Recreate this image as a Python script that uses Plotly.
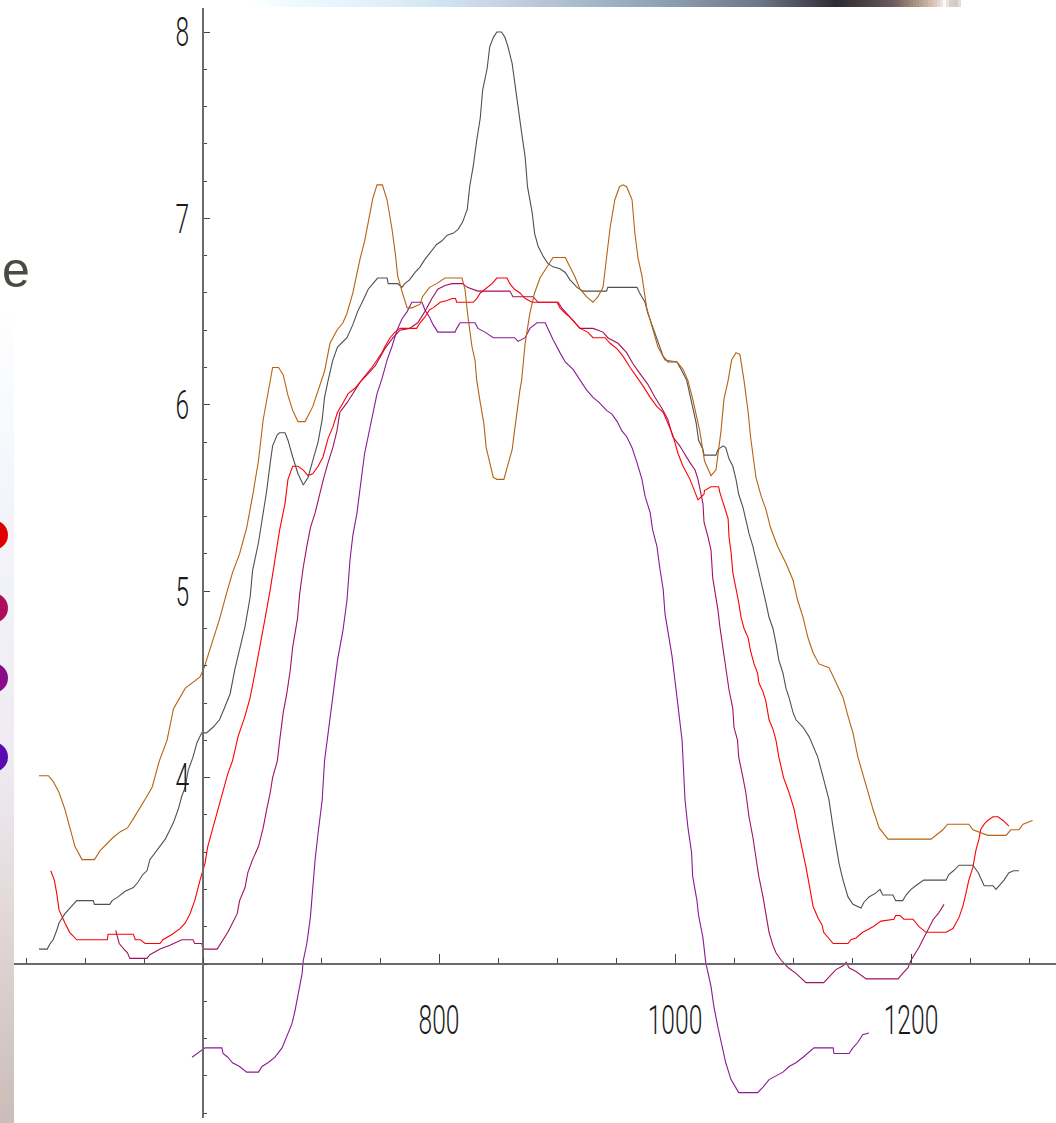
import plotly.graph_objects as go

# ---- measured series: (wavelength, value) ----
orange = [(461, 4.01), (469, 4.01), (473, 3.98), (478, 3.92), (483, 3.83), (487, 3.73), (491.5, 3.63),
          (497.5, 3.56), (508, 3.56), (513, 3.61), (519, 3.65), (524, 3.68), (530, 3.71), (536, 3.73),
          (541, 3.78), (547, 3.84), (552.5, 3.90), (557, 3.95), (559.5, 4.01), (563, 4.09), (569.5, 4.20),
          (575, 4.37), (585, 4.48), (591.5, 4.51), (597.5, 4.54), (601, 4.59), (604, 4.65), (608.5, 4.74),
          (614, 4.85), (620, 4.99), (625, 5.10), (631, 5.20), (637, 5.34), (642, 5.51), (647, 5.70),
          (651, 5.92), (655, 6.06), (659, 6.20), (664, 6.20), (668, 6.16), (672, 6.05), (676, 5.97),
          (680.5, 5.91), (686.5, 5.91), (693, 5.99), (699, 6.11), (703, 6.18), (707.6, 6.33), (713.5, 6.40),
          (718.6, 6.44), (722, 6.49), (727, 6.60), (733, 6.78), (737, 6.88), (741.5, 7.03), (744, 7.11),
          (747.5, 7.18), (752, 7.18), (756, 7.10), (760, 6.95), (763, 6.81), (765, 6.69), (769, 6.60),
          (773, 6.52), (777, 6.52), (784, 6.54), (786, 6.58), (792, 6.63), (798, 6.65), (805, 6.68),
          (819.5, 6.68), (822, 6.62), (824.6, 6.47), (828, 6.31), (830.5, 6.24), (832, 6.13), (835, 6.01),
          (838, 5.90), (840, 5.77), (843, 5.69), (846, 5.61), (849, 5.60), (855, 5.60), (857.6, 5.66),
          (862, 5.76), (864, 5.86), (866, 5.97), (868.6, 6.08), (870, 6.13), (873, 6.33), (877, 6.49),
          (881, 6.60), (885.6, 6.68), (891.5, 6.74), (896.6, 6.79), (907, 6.79), (911, 6.74), (915, 6.69),
          (919.5, 6.62), (925, 6.58), (930.5, 6.55), (934.7, 6.58), (939, 6.63), (942, 6.78), (945, 6.95),
          (949, 7.10), (953, 7.17), (956, 7.18), (959, 7.17), (963.6, 7.10), (966, 6.92), (968.6, 6.79),
          (972, 6.69), (976, 6.52), (980.5, 6.42), (985.6, 6.31), (991.5, 6.24), (1001.7, 6.23),
          (1006.8, 6.19), (1011, 6.13), (1015, 6.03), (1021, 5.86), (1025, 5.70), (1030.5, 5.62),
          (1034.7, 5.65), (1039, 5.86), (1041.5, 6.03), (1045, 6.13), (1048, 6.24), (1051.7, 6.28),
          (1055, 6.27), (1058.5, 6.13), (1062, 5.96), (1064, 5.83), (1068.6, 5.61), (1073, 5.51),
          (1077, 5.44), (1081, 5.34), (1087, 5.24), (1094, 5.15), (1100, 5.06), (1104, 4.95),
          (1108.5, 4.86), (1112.7, 4.75), (1117, 4.67), (1122, 4.61), (1130.5, 4.59), (1136.4, 4.51),
          (1142.4, 4.43), (1146.6, 4.33), (1150.8, 4.24), (1155, 4.11), (1163.6, 3.92), (1167.8, 3.83),
          (1173, 3.73), (1180.5, 3.67), (1217, 3.67), (1221, 3.69), (1227, 3.72), (1231, 3.75),
          (1249, 3.75), (1252.5, 3.72), (1265, 3.69), (1280.5, 3.69), (1284.7, 3.72), (1291.5, 3.72),
          (1295, 3.75), (1303, 3.77)]

gray = [(461, 3.08), (468, 3.08), (470.5, 3.11), (473, 3.13), (476, 3.18), (478, 3.22), (483, 3.27),
        (487, 3.30), (493, 3.34), (507, 3.34), (508, 3.32), (521, 3.32), (523, 3.34), (528, 3.36),
        (534, 3.39), (541, 3.41), (545, 3.44), (549, 3.48), (552.5, 3.50), (555, 3.56), (559.5, 3.60),
        (563.6, 3.63), (568, 3.67), (572, 3.72), (575, 3.76), (579, 3.83), (582, 3.90), (585, 3.95),
        (587.5, 4.04), (591.5, 4.11), (595, 4.19), (599, 4.24), (603, 4.24), (608.5, 4.27), (614, 4.31),
        (618.6, 4.38), (623, 4.45), (627, 4.58), (631, 4.68), (635.6, 4.81), (640, 4.97), (642, 5.11),
        (647, 5.26), (651, 5.42), (654, 5.54), (657, 5.69), (659, 5.78), (663, 5.84), (665, 5.85),
        (669.5, 5.85), (672, 5.81), (676, 5.72), (680.5, 5.63), (685, 5.57), (689, 5.61), (693, 5.70),
        (697.5, 5.80), (701, 5.92), (703, 6.04), (706, 6.13), (710, 6.24), (714, 6.31), (722, 6.36),
        (727, 6.43), (731, 6.50), (735.6, 6.56), (740, 6.62), (744, 6.65), (748, 6.68), (756, 6.68),
        (757, 6.65), (765, 6.65), (768.6, 6.63), (771, 6.65), (775, 6.67), (779.7, 6.71), (784, 6.74),
        (788, 6.78), (792, 6.81), (798, 6.86), (802.5, 6.88), (807, 6.91), (812, 6.92), (816, 6.94),
        (820, 6.98), (824, 7.05), (826, 7.17), (829, 7.28), (832, 7.42), (835, 7.54), (837, 7.69),
        (840.7, 7.80), (843, 7.92), (846, 7.97), (849, 8.00), (853, 8.00), (856, 7.97), (858.5, 7.92),
        (862, 7.83), (864, 7.73), (867, 7.58), (870, 7.46), (873, 7.33), (875, 7.17), (879, 7.03),
        (881, 6.92), (884, 6.85), (888, 6.80), (892, 6.76), (896.6, 6.74), (902.5, 6.73), (907, 6.71),
        (911, 6.67), (917, 6.63), (922, 6.61), (942, 6.61), (943, 6.63), (967.8, 6.63), (970, 6.60),
        (974.6, 6.55), (977, 6.49), (981, 6.42), (985.6, 6.33), (990, 6.26), (994, 6.23), (1001.7, 6.23),
        (1006.8, 6.17), (1010, 6.13), (1018, 5.90), (1020, 5.81), (1023.7, 5.76), (1024.6, 5.73),
        (1034.7, 5.73), (1036.4, 5.76), (1040.7, 5.78), (1043, 5.77), (1045.8, 5.71), (1049, 5.67),
        (1051.7, 5.60), (1054, 5.52), (1057.6, 5.45), (1060, 5.38), (1062.7, 5.31), (1066, 5.24),
        (1068.6, 5.17), (1071, 5.10), (1074.6, 5.02), (1077, 4.94), (1079.7, 4.86), (1083, 4.80),
        (1085.6, 4.72), (1088, 4.63), (1091.5, 4.56), (1094, 4.48), (1096.6, 4.43), (1100, 4.35),
        (1102.5, 4.31), (1108.5, 4.27), (1113.6, 4.22), (1117.8, 4.16), (1121, 4.11), (1126, 3.99),
        (1130.5, 3.88), (1134, 3.73), (1136.4, 3.63), (1139, 3.54), (1142.4, 3.45), (1146.6, 3.36),
        (1150.8, 3.32), (1157.6, 3.30), (1160, 3.33), (1164.4, 3.36), (1170, 3.38), (1173.7, 3.40),
        (1176, 3.37), (1184.7, 3.37), (1187, 3.34), (1193, 3.34), (1195.8, 3.37), (1200, 3.40),
        (1204, 3.42), (1210.8, 3.45), (1229.7, 3.45), (1232, 3.48), (1236, 3.50), (1240.7, 3.53),
        (1252.5, 3.53), (1257, 3.49), (1262, 3.42), (1269.5, 3.42), (1272, 3.40), (1274.6, 3.42),
        (1278.8, 3.45), (1283, 3.49), (1287, 3.50), (1291.5, 3.50)]

red = [(471, 3.50), (474, 3.45), (476, 3.38), (478, 3.29), (483, 3.22), (487, 3.17), (493, 3.13),
       (519, 3.13), (519.5, 3.16), (541, 3.16), (542.6, 3.13), (547, 3.13), (551, 3.11), (563.6, 3.11),
       (566, 3.13), (574, 3.16), (580.5, 3.19), (585, 3.22), (589, 3.27), (593, 3.34), (597.5, 3.45),
       (601.7, 3.54), (604, 3.63), (608.5, 3.73), (612.7, 3.83), (617, 3.93), (621, 4.02), (625, 4.09),
       (629.7, 4.22), (635.6, 4.33), (640, 4.43), (644, 4.56), (648.3, 4.70), (652.5, 4.85), (657, 5.01),
       (661, 5.17), (665, 5.33), (669.5, 5.47), (672, 5.60), (676, 5.67), (680.5, 5.67), (685, 5.65),
       (689, 5.62), (693, 5.63), (697.5, 5.67), (701.7, 5.72), (706, 5.82), (710, 5.88), (714, 5.96),
       (718.6, 6.01), (723, 6.06), (729, 6.09), (733, 6.12), (739, 6.17), (743, 6.20), (747.5, 6.24),
       (751.7, 6.28), (754, 6.31), (758.5, 6.36), (762.7, 6.39), (767, 6.41), (781, 6.41), (784, 6.44),
       (788, 6.47), (792, 6.51), (795, 6.52), (801, 6.55), (807, 6.56), (811, 6.57), (814, 6.57),
       (815, 6.55), (829, 6.55), (832, 6.57), (835, 6.60), (840.7, 6.63), (845, 6.65), (849, 6.68),
       (857.6, 6.68), (860, 6.65), (864, 6.62), (868.6, 6.60), (873, 6.57), (879, 6.55), (900, 6.55),
       (902.5, 6.52), (907, 6.49), (911, 6.47), (915, 6.44), (919.5, 6.41), (926, 6.39), (930.5, 6.36),
       (940.7, 6.36), (945, 6.33), (951, 6.30), (956, 6.26), (962, 6.20), (967.8, 6.15), (973, 6.10),
       (979, 6.04), (984.7, 5.99), (990, 5.96), (994, 5.90), (998, 5.84), (1002.5, 5.74), (1006.8, 5.67),
       (1012.7, 5.60), (1017, 5.53), (1019.5, 5.49), (1024.6, 5.52), (1025, 5.54), (1030.5, 5.56),
       (1037, 5.56), (1038, 5.53), (1041.5, 5.46), (1045, 5.39), (1045.8, 5.29), (1047.5, 5.21),
       (1049, 5.10), (1051.7, 5.02), (1054, 4.94), (1056, 4.86), (1058.5, 4.80), (1062, 4.75),
       (1064, 4.68), (1067, 4.61), (1070, 4.56), (1071, 4.51), (1074.6, 4.46), (1077, 4.41),
       (1079.7, 4.31), (1083, 4.26), (1085.6, 4.20), (1088, 4.11), (1092, 4.00), (1096.6, 3.92),
       (1101, 3.83), (1104, 3.73), (1107.6, 3.63), (1111, 3.52), (1113.6, 3.43), (1117, 3.31),
       (1121, 3.25), (1124.6, 3.21), (1126, 3.17), (1129.7, 3.14), (1134, 3.11), (1146.6, 3.11),
       (1149, 3.13), (1153.4, 3.14), (1159, 3.17), (1162, 3.18), (1167.8, 3.20), (1174.6, 3.23),
       (1185.6, 3.24), (1187, 3.26), (1190.7, 3.26), (1194, 3.24), (1201.7, 3.24), (1206.8, 3.20),
       (1212.7, 3.17), (1229.7, 3.17), (1235.6, 3.19), (1240.7, 3.25), (1244, 3.31), (1246.6, 3.38),
       (1249, 3.45), (1252.5, 3.52), (1255, 3.61), (1257.6, 3.67), (1259, 3.72), (1262, 3.75),
       (1265, 3.77), (1269.5, 3.79), (1273.7, 3.79), (1278, 3.77), (1282, 3.75), (1283, 3.74)]

crimson = [(526, 3.18), (527, 3.16), (529, 3.11), (533, 3.08), (536, 3.06), (538, 3.03), (541, 3.03),
           (552.5, 3.03), (555, 3.05), (563.6, 3.08), (572, 3.10), (582, 3.13), (591.5, 3.13), (593, 3.11),
           (599, 3.11), (600, 3.08), (612, 3.08), (614, 3.10), (617, 3.13), (621, 3.17), (625, 3.22),
           (629, 3.27), (631, 3.34), (635.6, 3.41), (638, 3.49), (642, 3.56), (647, 3.63), (651, 3.73),
           (654, 3.83), (657, 3.92), (659, 4.00), (663, 4.09), (665, 4.20), (668, 4.35), (671, 4.45),
           (674, 4.58), (676, 4.70), (680, 4.85), (682, 4.99), (685, 5.13), (688, 5.24), (691, 5.34),
           (695, 5.42), (699, 5.53), (702, 5.60), (706, 5.69), (710, 5.77), (713.5, 5.86), (716, 5.96),
           (722, 6.01), (727, 6.06), (733, 6.12), (739, 6.16), (746, 6.21), (754, 6.30), (761, 6.36),
           (767, 6.40), (775, 6.41), (782, 6.44), (788, 6.50), (794, 6.57), (799, 6.62), (805, 6.64),
           (811, 6.65), (820, 6.65), (824, 6.63), (833, 6.61), (860, 6.61), (862.7, 6.58), (879.7, 6.58),
           (884, 6.55), (901, 6.55), (904, 6.52), (911, 6.47), (919.5, 6.41), (930.5, 6.41), (939, 6.39),
           (943, 6.36), (951.7, 6.33), (959, 6.28), (964.4, 6.22), (970, 6.17), (977, 6.11), (983, 6.04),
           (989, 5.98), (994, 5.92), (998, 5.83), (1004, 5.78), (1008.5, 5.73), (1012.7, 5.69),
           (1017, 5.65), (1019.5, 5.60), (1023.7, 5.47), (1024.6, 5.37), (1028, 5.29), (1030.5, 5.22),
           (1032, 5.07), (1034.7, 4.97), (1036.4, 4.90), (1038, 4.81), (1040.7, 4.70), (1043, 4.60),
           (1045.8, 4.47), (1049, 4.37), (1050, 4.27), (1053, 4.20), (1054, 4.11), (1057.6, 4.00),
           (1060, 3.92), (1062.7, 3.79), (1066, 3.68), (1068.6, 3.57), (1071, 3.47), (1074.6, 3.36),
           (1077, 3.27), (1079.7, 3.17), (1083, 3.10), (1085.6, 3.06), (1090, 3.02), (1096, 2.98),
           (1102.5, 2.95), (1111, 2.90), (1126, 2.90), (1130.5, 2.93), (1136.4, 2.97), (1142.4, 2.99),
           (1145, 3.01), (1147.5, 2.98), (1153.4, 2.96), (1162, 2.92), (1189, 2.92), (1193, 2.95),
           (1197.5, 2.98), (1200, 3.02), (1204, 3.06), (1206.8, 3.09), (1210, 3.13), (1214, 3.18),
           (1219, 3.24), (1223, 3.27), (1228, 3.32)]

purple = [(590.7, 2.50), (595, 2.52), (601.7, 2.55), (616, 2.55), (617, 2.52), (621, 2.50), (625, 2.47),
          (631, 2.45), (637, 2.42), (647, 2.42), (650, 2.45), (655, 2.47), (661, 2.50), (667, 2.55),
          (671, 2.61), (675.4, 2.68), (678, 2.75), (680.5, 2.84), (684, 2.95), (685, 3.02), (688, 3.11),
          (691, 3.25), (693, 3.41), (695, 3.56), (697.5, 3.70), (701, 3.88), (703, 4.09), (706, 4.24),
          (709, 4.40), (712, 4.52), (714, 4.63), (718.6, 4.79), (722, 4.95), (724.6, 5.17), (727, 5.30),
          (730.5, 5.42), (733, 5.53), (734.7, 5.63), (737, 5.74), (741.5, 5.88), (744, 5.97), (747.5, 6.06),
          (751.7, 6.14), (756, 6.24), (760, 6.31), (764.4, 6.40), (768.6, 6.46), (773, 6.50), (777, 6.55),
          (785.6, 6.55), (788, 6.51), (792, 6.47), (795, 6.43), (799, 6.39), (813.6, 6.39), (815, 6.41),
          (818, 6.44), (830.5, 6.44), (833, 6.41), (839, 6.39), (846, 6.36), (864, 6.36), (867, 6.34),
          (873, 6.36), (877, 6.41), (883, 6.44), (890, 6.44), (892, 6.41), (896.6, 6.35), (902.5, 6.28),
          (907, 6.23), (913.6, 6.19), (919.5, 6.13), (925, 6.08), (930.5, 6.04), (936, 6.01), (942, 5.97),
          (946.6, 5.95), (951, 5.91), (955, 5.86), (959, 5.83), (963.6, 5.77), (967.8, 5.69), (972, 5.60),
          (974.6, 5.51), (979, 5.42), (981, 5.33), (984.7, 5.24), (987, 5.13), (990, 5.01), (991.5, 4.88),
          (994, 4.78), (997.5, 4.65), (1000, 4.52), (1002.5, 4.38), (1006, 4.20), (1008.5, 3.88),
          (1011, 3.73), (1014, 3.60), (1015, 3.47), (1018.6, 3.34), (1020, 3.26), (1023.7, 3.14),
          (1026, 3.01), (1030.5, 2.88), (1033, 2.77), (1036.4, 2.66), (1039, 2.58), (1043, 2.47),
          (1047.5, 2.38), (1051.7, 2.33), (1054, 2.31), (1070, 2.31), (1074.6, 2.34), (1079.7, 2.38),
          (1085.6, 2.40), (1091.5, 2.42), (1096.6, 2.45), (1102.5, 2.47), (1108.5, 2.50), (1113.6, 2.53),
          (1117.8, 2.55), (1134, 2.55), (1134.7, 2.52), (1147.5, 2.52), (1150.8, 2.55), (1155, 2.58),
          (1159, 2.62), (1164.4, 2.63)]

series = [
    ("purple", purple, "#8a1a98"),
    ("crimson", crimson, "#a3125f"),
    ("red", red, "#ff0000"),
    ("gray", gray, "#505050"),
    ("orange", orange, "#b8620f"),
]

x_ticks = [800, 1000, 1200]
x_tick_text = ["800", "1000", "1200"]
y_ticks = [4, 5, 6, 7, 8]
y_tick_text = ["4", "5", "6", "7", "8"]

# ---- page geometry ----
W, H = 1056, 1123
X_ORIGIN, Y_ORIGIN = 600, 3          # where the two axes cross
X_SCALE = 1.18                        # pixels per x unit
Y_SCALE = 186.4                       # pixels per y unit
X_ORIGIN_PX, Y_ORIGIN_PX = 203, 964
X_LINE_START_PX = 14
Y_LINE_TOP_PX, Y_LINE_BOTTOM_PX = 8, 1118
LABEL_SQUEEZE = 0.6                   # horizontal compression of the tick numerals


def x_at(px):
    return X_ORIGIN + (px - X_ORIGIN_PX) / X_SCALE


def y_at(py):
    return Y_ORIGIN + (Y_ORIGIN_PX - py) / Y_SCALE


fig = go.Figure()
for name, pts, color in series:
    fig.add_trace(go.Scatter(
        x=[p[0] for p in pts], y=[p[1] for p in pts], mode="lines", name=name,
        line=dict(color=color, width=1.1), hoverinfo="skip", showlegend=False,
    ))

tick_font = dict(family="Roboto, DejaVu Sans Condensed, DejaVu Sans, sans-serif", size=41,
                 weight=300, color="#1a1a1a")


def hex_to_rgb(h):
    h = h.lstrip("#")
    return tuple(int(h[i:i + 2], 16) for i in (0, 2, 4))


def blend(stops, t):
    for (p0, c0), (p1, c1) in zip(stops, stops[1:]):
        if p0 <= t <= p1:
            f = 0 if p1 == p0 else (t - p0) / (p1 - p0)
            a, b = hex_to_rgb(c0), hex_to_rgb(c1)
            return "rgb(%d,%d,%d)" % tuple(round(a[i] + (b[i] - a[i]) * f) for i in range(3))
    return stops[-1][1]


shapes = []

# banner strip along the top edge
top_stops = [(250, "#ffffff"), (300, "#eafbff"), (400, "#dcedf9"), (500, "#c4d4e4"), (600, "#a4b4c8"),
             (680, "#8a9aae"), (760, "#6c7686"), (805, "#4a4a56"), (836, "#2e2a32"), (870, "#4c4448"),
             (895, "#6e6060"), (915, "#a89080"), (935, "#dcc8bc"), (942, "#efe5df"), (945, "#ffffff"),
             (949, "#dcd0c8"), (958, "#d4c8c0"), (962, "#ffffff")]
step = 3
for x0 in range(250, 962, step):
    shapes.append(dict(type="rect", xref="paper", yref="paper", layer="above",
                       x0=x0 / W, x1=(x0 + step) / W, y0=1 - 7 / H, y1=1,
                       fillcolor=blend(top_stops, x0 + step / 2), line=dict(width=0)))

# side panel on the left edge
side_stops = [(300, "#ffffff"), (500, "#f3f5fb"), (760, "#eeebf1"), (900, "#e4dadb"), (1123, "#cabdb8")]
step = 6
for y0 in range(300, H, step):
    shapes.append(dict(type="rect", xref="paper", yref="paper", layer="above",
                       x0=0, x1=14 / W, y0=1 - (y0 + step) / H, y1=1 - y0 / H,
                       fillcolor=blend(side_stops, y0 + step / 2), line=dict(width=0)))

# bullet dots partly hidden behind the left edge
for cy, col in [(535, "#e00000"), (608, "#ad0d5c"), (678, "#8a0a8c"), (757, "#5a0ab2")]:
    r, cx = 15, -7
    shapes.append(dict(type="circle", xref="paper", yref="paper", layer="above",
                       x0=(cx - r) / W, x1=(cx + r) / W, y0=1 - (cy + r) / H, y1=1 - (cy - r) / H,
                       fillcolor=col, line=dict(width=0)))

fig.update_layout(
    width=W, height=H,
    margin=dict(l=0, r=0, t=0, b=0, pad=0),
    paper_bgcolor="white", plot_bgcolor="white",
    shapes=shapes,
    annotations=[dict(text="e", xref="paper", yref="paper", x=0 / W, y=1 - 270 / H,
                      xanchor="left", yanchor="middle", showarrow=False,
                      font=dict(family="Liberation Sans, Arial, sans-serif", size=50, color="#4a4a42"))],
    xaxis=dict(
        range=[x_at(X_LINE_START_PX), x_at(W)], domain=[X_LINE_START_PX / W, 1],
        anchor="free", position=(H - Y_ORIGIN_PX) / H,
        showline=True, linecolor="#6b6b6b", linewidth=1.5,
        showgrid=False, zeroline=False,
        ticks="inside", ticklen=9, tickwidth=1.2, tickcolor="#444444",
        tickvals=x_ticks, ticktext=x_tick_text, tickfont=tick_font, ticklabelstandoff=20,
        minor=dict(dtick=50, tick0=0, ticks="inside", ticklen=5, tickwidth=1, tickcolor="#444444",
                   showgrid=False),
    ),
    yaxis=dict(
        range=[y_at(Y_LINE_BOTTOM_PX), y_at(Y_LINE_TOP_PX)],
        domain=[(H - Y_LINE_BOTTOM_PX) / H, (H - Y_LINE_TOP_PX) / H],
        anchor="free", position=X_ORIGIN_PX / W, side="left",
        showline=True, linecolor="#6b6b6b", linewidth=1.5,
        showgrid=False, zeroline=False,
        ticks="inside", ticklen=6, tickwidth=1.2, tickcolor="#444444",
        tickvals=y_ticks, ticktext=y_tick_text, tickfont=tick_font, ticklabelstandoff=5,
        minor=dict(dtick=0.2, tick0=0, ticks="inside", ticklen=3, tickwidth=1, tickcolor="#444444",
                   showgrid=False),
    ),
)

# narrow the tick numerals horizontally, keeping each label's anchor point fixed
squeeze_js = """
(function(){
  var gd = document.getElementById('{plot_id}');
  function squeeze(){
    gd.querySelectorAll('.xtick text, .ytick text').forEach(function(t){
      var tr = t.getAttribute('transform') || '';
      if (tr.indexOf('scale(') >= 0) return;
      var bb = t.getBBox();
      var a = t.getAttribute('text-anchor');
      var cx = a === 'end' ? bb.x + bb.width : (a === 'start' ? bb.x : bb.x + bb.width / 2);
      t.setAttribute('transform', tr + ' translate(' + cx + ',0) scale(%s,1) translate(' + (-cx) + ',0)');
    });
  }
  squeeze();
  if (gd.on) gd.on('plotly_afterplot', squeeze);
  setTimeout(squeeze, 50);
})();
""" % LABEL_SQUEEZE

fig.write_html("out.html", post_script=squeeze_js)
